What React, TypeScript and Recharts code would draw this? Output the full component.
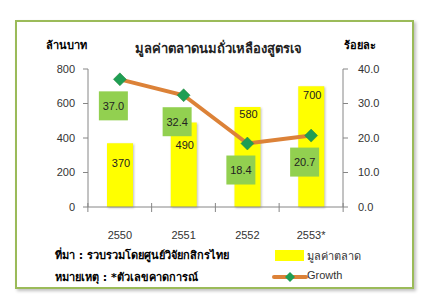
import React from "react";
import {
  ComposedChart,
  Bar,
  Line,
  XAxis,
  YAxis,
  LabelList,
} from "recharts";

const years = ["2550", "2551", "2552", "2553*"];
const marketValue = [370, 490, 580, 700];
const growth = [37.0, 32.4, 18.4, 20.7];
const leftTicks = [0, 200, 400, 600, 800];
const rightTicks = [0, 10, 20, 30, 40];

const data = years.map((year, i) => ({
  year,
  value: marketValue[i],
  growth: growth[i],
}));

const THAI = "Tahoma, 'DejaVu Sans', sans-serif";
const AXIS_FONT = "'Liberation Sans', Arial, sans-serif";
const barLabelDrop = [20, 23, 7, 9];

const XTick = (props: any) => {
  const { x, y, payload, index } = props;
  const half = 32;
  return (
    <g>
      <line x1={x - half} x2={x - half} y1={y - 4} y2={y + 5} stroke="#868686" />
      {index === years.length - 1 && (
        <line x1={x + half} x2={x + half} y1={y - 4} y2={y + 5} stroke="#868686" />
      )}
      <text x={x} y={y + 32} textAnchor="middle" fontSize={11} fill="#333" fontFamily={AXIS_FONT}>
        {payload.value}
      </text>
    </g>
  );
};

const Diamond = (props: any) => {
  const { cx, cy } = props;
  if (cx == null || cy == null) return null;
  const r = 6.5;
  return (
    <path
      d={`M${cx},${cy - r} L${cx + r},${cy} L${cx},${cy + r} L${cx - r},${cy} Z`}
      fill="#1f9e54"
      stroke="#2b8a3e"
      strokeWidth={0.5}
    />
  );
};

const GrowthLabel = (props: any) => {
  const { x, y, value } = props;
  const w = 29;
  const left = x - 21;
  const top = y + 12;
  return (
    <g>
      <rect x={left} y={top} width={w} height={w} fill="#92d050" />
      <text
        x={left + w / 2}
        y={top + w / 2 + 4}
        textAnchor="middle"
        fontSize={11}
        fill="#222"
        fontFamily={AXIS_FONT}
      >
        {Number(value).toFixed(1)}
      </text>
    </g>
  );
};

const ValueLabel = (props: any) => {
  const { x, y, width, value, index } = props;
  return (
    <text
      x={x + width / 2 + 1}
      y={y + barLabelDrop[index] + 4}
      textAnchor="middle"
      fontSize={11}
      fill="#222"
      fontFamily={AXIS_FONT}
    >
      {value}
    </text>
  );
};

export default function App() {
  return (
    <div
      style={{
        position: "absolute",
        left: 0,
        top: 0,
        width: 426,
        height: 301,
        background: "#fff",
        fontFamily: THAI,
      }}
    >
      <div
        style={{
          position: "absolute",
          left: 15,
          top: 20,
          width: 395,
          height: 265,
          border: "2px solid #9bbb59",
          boxShadow: "2px 2px 3px rgba(0,0,0,0.25)",
        }}
      />
      <div style={{ position: "absolute", left: 46, top: 36, fontSize: 11, fontWeight: "bold" }}>
        ล้านบาท
      </div>
      <div style={{ position: "absolute", left: 344, top: 36, fontSize: 11, fontWeight: "bold" }}>
        ร้อยละ
      </div>
      <div
        style={{
          position: "absolute",
          left: 118,
          width: 200,
          top: 38,
          textAlign: "center",
          fontSize: 13,
          fontWeight: "bold",
          color: "#222",
        }}
      >
        มูลค่าตลาดนมถั่วเหลืองสูตรเจ
      </div>

      <div style={{ position: "absolute", left: 0, top: 0 }}>
        <ComposedChart
          width={426}
          height={301}
          data={data}
          margin={{ top: 69, right: 33, bottom: 64, left: 48 }}
        >
          <XAxis
            dataKey="year"
            xAxisId="x"
            stroke="#868686"
            tickLine={false}
            tickSize={0}
            tickMargin={0}
            height={30}
            tick={<XTick />}
            interval={0}
          />
          <YAxis
            yAxisId="left"
            domain={[0, 800]}
            ticks={leftTicks}
            stroke="#868686"
            width={40}
            tickSize={5}
            tickMargin={8}
            tick={{ fontSize: 11, fill: "#333", fontFamily: AXIS_FONT }}
          />
          <YAxis
            yAxisId="right"
            orientation="right"
            domain={[0, 40]}
            ticks={rightTicks}
            stroke="#868686"
            width={50}
            tickSize={5}
            tickMargin={10}
            tickFormatter={(v: number) => v.toFixed(1)}
            tick={{ fontSize: 11, fill: "#333", fontFamily: AXIS_FONT }}
          />
          <Bar
            xAxisId="x"
            yAxisId="left"
            dataKey="value"
            fill="#ffff00"
            barSize={26}
            isAnimationActive={false}
            style={{ filter: "drop-shadow(1px 1px 1px rgba(0,0,0,0.25))" }}
          >
            <LabelList dataKey="value" content={<ValueLabel />} />
          </Bar>
          <Line
            xAxisId="x"
            yAxisId="right"
            dataKey="growth"
            stroke="#dc8238"
            strokeWidth={4}
            dot={<Diamond />}
            activeDot={false}
            isAnimationActive={false}
          >
            <LabelList dataKey="growth" content={<GrowthLabel />} />
          </Line>
        </ComposedChart>
      </div>

      <div style={{ position: "absolute", left: 55, top: 246, fontSize: 11, fontWeight: "bold" }}>
        ที่มา : รวบรวมโดยศูนย์วิจัยกสิกรไทย
      </div>
      <div style={{ position: "absolute", left: 55, top: 268, fontSize: 11, fontWeight: "bold" }}>
        หมายเหตุ : *ตัวเลขคาดการณ์
      </div>

      <div style={{ position: "absolute", left: 275, top: 250, width: 29, height: 11, background: "#ffff00" }} />
      <div style={{ position: "absolute", left: 307, top: 247, fontSize: 11, color: "#333" }}>
        มูลค่าตลาด
      </div>
      <svg style={{ position: "absolute", left: 270, top: 270 }} width={40} height={14}>
        <line x1={4} x2={36} y1={7} y2={7} stroke="#dc8238" strokeWidth={4} strokeLinecap="round" />
        <path d="M20,2 L25,7 L20,12 L15,7 Z" fill="#1f9e54" />
      </svg>
      <div
        style={{
          position: "absolute",
          left: 307,
          top: 269,
          fontSize: 11,
          color: "#333",
          fontFamily: AXIS_FONT,
        }}
      >
        Growth
      </div>
    </div>
  );
}
